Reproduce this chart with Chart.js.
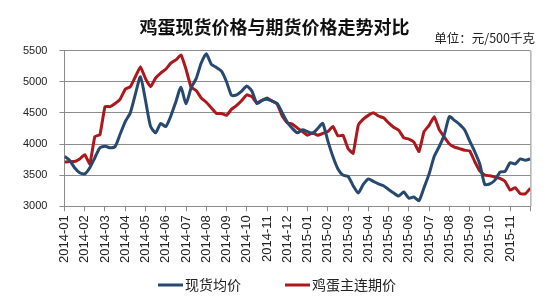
<!DOCTYPE html>
<html>
<head>
<meta charset="utf-8">
<script src="https://cdn.jsdelivr.net/npm/chart.js@4/dist/chart.umd.min.js"></script>
<style>
  html, body { margin: 0; padding: 0; background: #fff; }
  #wrap { width: 550px; height: 300px; }
</style>
</head>
<body>
<div id="wrap"><canvas id="chart"></canvas></div>
<script>
// month tick labels (one per month, starting 2014-01)
const months = [
  '2014-01', '2014-02', '2014-03', '2014-04', '2014-05', '2014-06',
  '2014-07', '2014-08', '2014-09', '2014-10', '2014-11', '2014-12',
  '2015-01', '2015-02', '2015-03', '2015-04', '2015-05', '2015-06',
  '2015-07', '2015-08', '2015-09', '2015-10', '2015-11'
];
const seriesNames = ['现货均价', '鸡蛋主连期价'];
const pointsPerMonth = 4; // roughly weekly readings

// spot average price (yuan / 500 kg)
const spot = [
  3800, 3740, 3620, 3540, 3520, 3620, 3780, 3940, 3965, 3940, 3960, 4160,
  4360, 4500, 4800, 5080, 4700, 4283, 4180, 4330, 4280, 4450, 4680, 4913,
  4645, 4900, 5050, 5300, 5450, 5280, 5230, 5170, 5000, 4780, 4790, 4850,
  4930, 4850, 4650, 4700, 4720, 4690, 4650, 4500, 4350, 4250, 4180, 4230,
  4200, 4170, 4250, 4330, 4050, 3800, 3600, 3500, 3480, 3330, 3214, 3350,
  3440, 3400, 3360, 3330, 3270, 3214, 3164, 3230, 3130, 3150, 3090, 3300,
  3520, 3800, 3960, 4150, 4440, 4380, 4316, 4230, 4050, 3880, 3680, 3350,
  3360, 3420, 3550, 3560, 3700, 3680, 3760, 3740, 3760
];

// egg futures main contract price
const futures = [
  3710, 3720, 3720, 3760, 3830, 3680, 4120, 4150, 4600, 4600, 4650, 4720,
  4880, 4920, 5080, 5240, 5050, 4920, 5060, 5140, 5200, 5300, 5350, 5430,
  5200, 4913, 4860, 4740, 4670, 4580, 4490, 4490, 4460, 4560, 4620, 4700,
  4790, 4760, 4660, 4700, 4740, 4690, 4640, 4450, 4340, 4320, 4255, 4200,
  4140, 4180, 4140, 4170, 4200, 4283, 4130, 4140, 3926, 3850, 4300, 4400,
  4460, 4502, 4450, 4420, 4340, 4270, 4220, 4100, 4080, 4030, 3880, 4200,
  4300, 4440, 4230, 4110, 4000, 3950, 3926, 3900, 3890, 3720, 3570, 3500,
  3490, 3470, 3450, 3400, 3260, 3300, 3200, 3200, 3290
];

const toXY = arr => arr.map((v, i) => ({ x: i / pointsPerMonth, y: v }));

const gridColor = '#8c8c8c';

// right border of the plot, unit note and legend
const extras = {
  id: 'extras',
  afterDraw(chart) {
    const { ctx, chartArea } = chart;
    ctx.save();
    ctx.strokeStyle = gridColor;
    ctx.lineWidth = 1;
    ctx.beginPath();
    ctx.moveTo(chartArea.right + 0.5, chartArea.top);
    ctx.lineTo(chartArea.right + 0.5, chartArea.bottom);
    ctx.stroke();

    ctx.fillStyle = '#222';
    ctx.font = '12.5px "Noto Sans CJK SC"';
    ctx.textAlign = 'right';
    ctx.textBaseline = 'middle';
    ctx.fillText('单位：元/500千克', 535, 38);

    // legend
    ctx.font = '14px "Noto Sans CJK SC"';
    ctx.textAlign = 'left';
    const lineLen = 25, gapText = 2, gapItems = 44;
    const ds = chart.data.datasets;
    const widths = ds.map(d => lineLen + gapText + ctx.measureText(d.label).width);
    const total = widths.reduce((a, b) => a + b, 0) + gapItems * (ds.length - 1);
    let x = chart.width / 2 - total / 2 + 2;
    const y = 285;
    ds.forEach((d, i) => {
      ctx.strokeStyle = d.borderColor;
      ctx.lineWidth = 3;
      ctx.beginPath();
      ctx.moveTo(x, y);
      ctx.lineTo(x + lineLen, y);
      ctx.stroke();
      ctx.fillStyle = '#222';
      ctx.fillText(d.label, x + lineLen + gapText, y);
      x += widths[i] + gapItems;
    });
    ctx.restore();
  }
};

new Chart(document.getElementById('chart'), {
  type: 'line',
  data: {
    datasets: [
      {
        label: seriesNames[0],
        data: toXY(spot),
        borderColor: '#27496f',
        borderWidth: 3,
        pointRadius: 0,
        tension: 0.2
      },
      {
        label: seriesNames[1],
        data: toXY(futures),
        borderColor: '#ad181d',
        borderWidth: 3,
        pointRadius: 0,
        tension: 0.1
      }
    ]
  },
  options: {
    responsive: true,
    maintainAspectRatio: false,
    animation: false,
    layout: { padding: { left: 11, right: 12, bottom: 33 } },
    plugins: {
      legend: { display: false },
      tooltip: { enabled: false },
      title: {
        display: true,
        text: '鸡蛋现货价格与期货价格走势对比',
        color: '#111',
        font: { family: '"Noto Sans CJK SC"', size: 18, weight: 'bold' },
        padding: { top: 16, bottom: 13 }
      }
    },
    scales: {
      x: {
        type: 'linear',
        min: 0,
        max: months.length,
        grid: { drawOnChartArea: false, color: gridColor, tickLength: 5 },
        border: { color: gridColor },
        ticks: {
          stepSize: 1,
          autoSkip: false,
          maxRotation: 90,
          minRotation: 90,
          padding: 4,
          color: '#222',
          font: { family: '"Liberation Sans", Arial', size: 13 },
          callback: v => months[v] || ''
        }
      },
      y: {
        min: 3000,
        max: 5500,
        grid: { color: gridColor, tickLength: 5 },
        border: { color: gridColor },
        ticks: {
          stepSize: 500,
          padding: 12,
          color: '#222',
          font: { family: '"Liberation Sans", Arial', size: 11 },
          callback: v => String(v)
        }
      }
    }
  },
  plugins: [extras]
});
</script>
</body>
</html>
